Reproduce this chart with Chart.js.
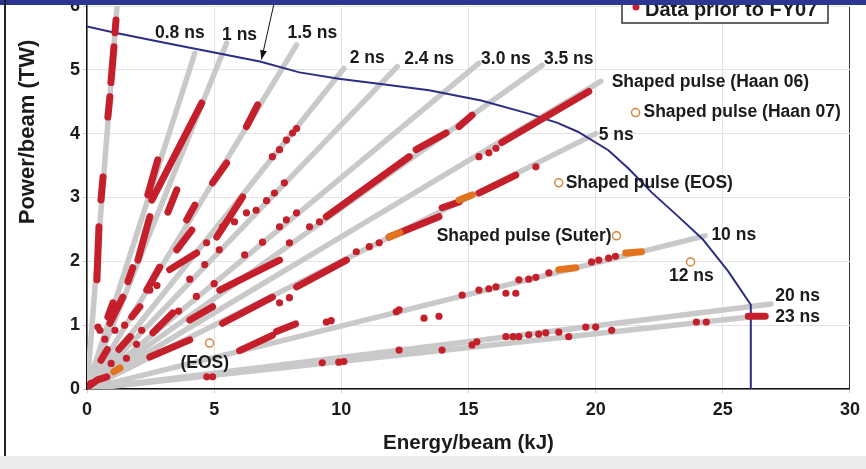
<!DOCTYPE html>
<html>
<head>
<meta charset="utf-8">
<script src="https://cdn.jsdelivr.net/npm/chart.js@4.4.0/dist/chart.umd.min.js"></script>
<style>
  html, body { margin: 0; padding: 0; background: #fff; overflow: hidden; }
  #page { position: relative; width: 866px; height: 469px; overflow: hidden; background: #fff; }
  #wrap { position: absolute; left: 0; top: -20px; width: 866px; height: 489px; }
  #topbar { position: absolute; left: 0; top: 0; width: 866px; height: 5px; background: #2c3590; }
  #frame { position: absolute; left: 4px; top: 0; width: 2px; height: 456px; background: #222; }
  #foot { position: absolute; left: 0; top: 456px; width: 866px; height: 13px; background: #ececec; }
</style>
</head>
<body>
<div id="page">
  <div id="wrap"><canvas id="myChart" width="866" height="489"></canvas></div>
  <div id="topbar"></div>
  <div id="frame"></div>
  <div id="foot"></div>
</div>
<script>
// axis ticks
const xTicks = [0, 5, 10, 15, 20, 25, 30]
const yTicks = [0, 1, 2, 3, 4, 5, 6]

// pulse-length lines, all start at the origin
const rayEndE = [1.24, 4.24, 5.49, 8.24, 10.1, 12.2, 15.4, 17.9, 20.2, 20.0, 24.3, 26.9, 26.6]
const rayEndP = [6.3, 5.26, 5.42, 5.39, 5.02, 5.05, 5.1, 5.07, 4.82, 4.0, 2.4, 1.33, 1.15]

// laser limit curve
const limitE = [0, 1.1, 3.1, 5.0, 6.8, 8.35, 9.9, 11.7, 13.45, 15.5, 17.4, 18.5, 19.3, 20.5, 21.3, 22.2, 23.2, 24.2, 25.2, 26.1, 26.1]
const limitP = [5.68, 5.58, 5.42, 5.27, 5.13, 4.96, 4.86, 4.77, 4.68, 4.52, 4.31, 4.17, 4.03, 3.74, 3.45, 3.08, 2.72, 2.35, 1.85, 1.32, 0]

// runs of shots that merge into a bar: [E1, P1, E2, P2]
const redRuns = [
    [0.39, 1.71, 0.47, 2.54], [0.55, 2.96, 0.63, 3.32], [0.82, 4.26, 0.90, 4.58], [0.94, 4.80, 1.06, 5.36],
    [1.10, 5.58, 1.14, 5.78], [2.39, 3.04, 2.78, 3.59], [2.55, 2.96, 4.51, 4.48], [2.00, 2.02, 2.47, 2.70],
    [1.61, 1.68, 1.80, 1.90], [0.90, 1.03, 1.41, 1.44], [0.82, 1.13, 1.02, 1.35], [6.27, 4.11, 6.71, 4.45],
    [4.94, 3.23, 5.49, 3.54], [3.92, 2.65, 4.24, 2.88], [3.53, 2.18, 4.12, 2.49], [2.35, 1.55, 2.86, 1.91],
    [1.76, 1.13, 2.08, 1.29], [5.10, 2.38, 6.12, 3.01], [3.25, 1.87, 4.31, 2.13], [5.22, 1.55, 7.57, 2.02],
    [9.41, 2.70, 12.67, 3.64], [12.94, 3.75, 14.12, 4.01], [14.63, 4.11, 15.14, 4.29], [16.31, 3.86, 19.73, 4.66],
    [5.33, 1.03, 7.29, 1.44], [2.47, 0.50, 4.04, 0.77], [8.24, 1.60, 10.20, 2.02], [11.88, 2.38, 13.84, 2.70],
    [13.96, 2.84, 14.63, 2.93], [15.41, 3.07, 16.86, 3.35], [4.04, 1.08, 4.94, 1.29], [6.00, 0.60, 7.29, 0.84],
    [7.45, 0.90, 8.20, 1.02], [2.59, 0.88, 3.37, 1.19], [26.00, 1.14, 26.67, 1.14], [0.05, 0.04, 0.40, 0.14],
    [0.39, 0.14, 0.78, 0.19], [3.18, 2.77, 3.53, 3.12], [1.25, 0.62, 1.70, 0.82], [0.55, 0.45, 0.80, 0.62]
]

// single shots: [E, P]
const redDots = [
    [0.43, 0.97], [0.51, 0.92], [0.16, 0.09], [0.04, 0.05],
    [0.70, 0.78], [1.10, 0.92], [1.48, 1.00], [1.95, 0.70], [2.15, 0.92], [0.95, 0.40], [1.55, 0.48],
    [7.29, 3.64], [7.57, 3.75], [7.84, 3.90], [8.08, 4.01], [8.24, 4.08],
    [4.70, 2.29], [2.75, 1.62], [2.47, 1.55],
    [4.04, 1.72], [4.63, 1.95], [5.20, 2.18], [5.33, 2.54], [5.80, 2.62], [6.27, 2.76], [6.65, 2.80],
    [7.06, 2.95], [7.37, 3.07], [7.76, 3.23],
    [6.20, 2.10], [6.90, 2.30], [7.57, 2.54], [7.84, 2.65], [8.24, 2.76], [3.60, 1.22], [4.30, 1.45], [5.00, 1.65],
    [7.96, 2.29], [8.75, 2.54], [9.14, 2.62],
    [10.59, 2.15], [11.10, 2.23], [11.49, 2.29], [17.65, 3.48],
    [15.41, 3.64], [15.80, 3.70], [16.08, 3.77],
    [9.41, 1.05], [9.60, 1.07], [12.16, 1.21], [12.27, 1.24], [14.75, 1.47], [15.41, 1.55], [15.80, 1.57],
    [16.08, 1.60], [16.98, 1.71], [17.37, 1.72], [17.65, 1.75], [18.16, 1.82], [19.84, 1.99], [20.12, 2.02],
    [20.51, 2.05], [20.78, 2.08],
    [7.57, 1.35], [7.96, 1.43], [13.25, 1.11], [13.84, 1.14], [16.47, 1.50], [16.86, 1.50],
    [9.25, 0.41], [9.90, 0.42], [10.10, 0.43], [12.27, 0.61], [13.96, 0.61], [15.14, 0.69], [15.33, 0.74],
    [16.47, 0.82], [16.75, 0.82], [16.98, 0.82], [17.37, 0.85], [17.76, 0.86], [18.04, 0.88], [18.55, 0.89],
    [18.94, 0.82], [19.61, 0.97], [20.00, 0.97], [20.63, 0.92], [23.96, 1.05], [24.35, 1.05],
    [4.71, 0.19], [4.94, 0.19]
]

// shaped pulse shots (filled orange)
const orangeRuns = [
    [1.05, 0.27, 1.30, 0.33], [11.90, 2.38, 12.30, 2.45], [14.63, 2.96, 15.14, 3.04],
    [18.55, 1.87, 19.22, 1.90], [21.18, 2.13, 21.80, 2.15]
]

// planned shots (open circles)
const circE = [21.57, 18.55, 20.82, 23.73, 4.82]
const circP = [4.33, 3.23, 2.40, 1.99, 0.72]

// text on the plot
const noteText = ['0.8 ns', '1 ns', '1.5 ns', '2 ns', '2.4 ns', '3.0 ns', '3.5 ns', 'Shaped pulse (Haan 06)',
    'Shaped pulse (Haan 07)', '5 ns', 'Shaped pulse (EOS)', 'Shaped pulse (Suter)', '10 ns', '12 ns', '20 ns', '23 ns', '(EOS)']
const noteE = [3.65, 6.0, 8.86, 11.02, 13.45, 16.47, 18.94, 20.63, 21.88, 20.12, 18.82, 20.63, 24.55, 23.76, 27.06, 27.06, 4.63]
const noteP = [5.58, 5.55, 5.58, 5.19, 5.16, 5.16, 5.16, 4.80, 4.33, 3.98, 3.23, 2.40, 2.41, 1.76, 1.46, 1.13, 0.41]
const noteAlign = ['center', 'center', 'center', 'center', 'center', 'center', 'center', 'left',
    'left', 'left', 'left', 'right', 'left', 'center', 'left', 'left', 'center']

const legendText = 'Data prior to FY07'
const yTitle = 'Power/beam (TW)'
const xTitle = 'Energy/beam (kJ)'

const FONT = '"Liberation Sans", Arial, sans-serif'
Chart.defaults.font.family = FONT

function segments(list) {
    const pts = []
    list.forEach(r => {
        pts.push({x: r[0], y: r[1]}, {x: r[2], y: r[3]}, {x: r[2], y: null})
    })
    return pts
}

const rayPts = []
rayEndE.forEach((e, i) => {
    rayPts.push({x: 0, y: 0}, {x: e, y: rayEndP[i]}, {x: e, y: null})
})

const annotations = {
    id: 'annotations',
    afterDatasetsDraw(chart) {
        const {ctx, scales: {x, y}} = chart
        ctx.save()
        ctx.fillStyle = '#1b1b1b'
        ctx.textBaseline = 'middle'
        ctx.font = 'bold 17.5px ' + FONT
        noteText.forEach((t, i) => {
            ctx.textAlign = noteAlign[i]
            ctx.fillText(t, x.getPixelForValue(noteE[i]), y.getPixelForValue(noteP[i]))
        })

        // arrow pointing at the limit curve
        const ax1 = x.getPixelForValue(7.37), ay1 = y.getPixelForValue(6.07)
        const ax2 = x.getPixelForValue(6.86), ay2 = y.getPixelForValue(5.16)
        ctx.strokeStyle = '#111'
        ctx.lineWidth = 1
        ctx.beginPath()
        ctx.moveTo(ax1, ay1)
        ctx.lineTo(ax2, ay2)
        ctx.stroke()
        const ang = Math.atan2(ay2 - ay1, ax2 - ax1)
        ctx.beginPath()
        ctx.moveTo(ax2, ay2)
        ctx.lineTo(ax2 - 10 * Math.cos(ang - 0.35), ay2 - 10 * Math.sin(ang - 0.35))
        ctx.lineTo(ax2 - 10 * Math.cos(ang + 0.35), ay2 - 10 * Math.sin(ang + 0.35))
        ctx.closePath()
        ctx.fillStyle = '#111'
        ctx.fill()

        // legend box, cut by the top edge
        ctx.fillStyle = '#fff'
        ctx.fillRect(622, -10, 206, 53)
        ctx.strokeStyle = '#333'
        ctx.lineWidth = 1.5
        ctx.strokeRect(622, -10, 206, 53)
        ctx.fillStyle = '#c91f2c'
        ctx.beginPath()
        ctx.arc(636, 27, 3.5, 0, Math.PI * 2)
        ctx.fill()
        ctx.fillStyle = '#1b1b1b'
        ctx.textAlign = 'left'
        ctx.textBaseline = 'alphabetic'
        ctx.font = 'bold 20px ' + FONT
        ctx.fillText(legendText, 645, 36)

        // y axis title
        ctx.save()
        ctx.translate(28, 152)
        ctx.rotate(-Math.PI / 2)
        ctx.textAlign = 'center'
        ctx.textBaseline = 'middle'
        ctx.font = 'bold 22px ' + FONT
        ctx.fillText(yTitle, 0, 0)
        ctx.restore()
        ctx.restore()
    }
}

new Chart(document.getElementById('myChart'), {
    type: 'scatter',
    data: {
        datasets: [
            {
                label: 'pulse length',
                data: rayPts,
                showLine: true,
                spanGaps: false,
                borderColor: '#c9c9c9',
                borderWidth: 5.5,
                borderCapStyle: 'round',
                pointRadius: 0,
                order: 10,
            },
            {
                label: 'limit',
                data: limitE.map((e, i) => ({x: e, y: limitP[i]})),
                showLine: true,
                borderColor: '#2b2e83',
                borderWidth: 2,
                pointRadius: 0,
                order: 9,
            },
            {
                label: 'runs',
                data: segments(redRuns),
                showLine: true,
                spanGaps: false,
                borderColor: '#c41f2b',
                borderWidth: 7,
                borderCapStyle: 'round',
                pointRadius: 0,
                order: 8,
            },
            {
                label: legendText,
                data: redDots.map(d => ({x: d[0], y: d[1]})),
                backgroundColor: '#c41f2b',
                borderWidth: 0,
                pointRadius: 3.6,
                order: 7,
            },
            {
                label: 'shaped',
                data: segments(orangeRuns),
                showLine: true,
                spanGaps: false,
                borderColor: '#e2731f',
                borderWidth: 7,
                borderCapStyle: 'round',
                pointRadius: 0,
                order: 6,
            },
            {
                label: 'planned',
                data: circE.map((e, i) => ({x: e, y: circP[i]})),
                backgroundColor: '#fff',
                borderColor: '#d4873d',
                borderWidth: 1.5,
                pointRadius: 4,
                order: 5,
            },
        ],
    },
    options: {
        responsive: false,
        animation: false,
        events: [],
        layout: {
            padding: {top: 26, right: 14, left: 0, bottom: 0}
        },
        plugins: {
            legend: {display: false},
            tooltip: {enabled: false},
        },
        scales: {
            x: {
                type: 'linear',
                min: 0,
                max: 30,
                afterBuildTicks: s => { s.ticks = xTicks.map(v => ({value: v})) },
                afterFit: s => { s.height = 80 },
                grid: {
                    color: c => (c.tick && c.tick.value === 30 ? '#333' : '#e3e3e3'),
                    tickLength: 4,
                    tickColor: '#ccc',
                },
                border: {color: '#111', width: 1.5},
                ticks: {
                    color: '#1b1b1b',
                    padding: 6,
                    font: {size: 18, weight: 'bold'},
                },
                title: {
                    display: true,
                    text: xTitle,
                    color: '#1b1b1b',
                    font: {size: 20.5, weight: 'bold'},
                    padding: {top: 0, bottom: 13},
                },
            },
            y: {
                type: 'linear',
                min: 0,
                max: 6,
                afterBuildTicks: s => { s.ticks = yTicks.map(v => ({value: v})) },
                afterFit: s => { s.width = 87 },
                grid: {
                    color: '#e3e3e3',
                    tickLength: 4,
                    tickColor: '#ccc',
                },
                border: {color: '#111', width: 1.5},
                ticks: {
                    color: '#1b1b1b',
                    padding: 3,
                    font: {size: 18, weight: 'bold'},
                },
            },
        },
    },
    plugins: [annotations],
})
</script>
</body>
</html>
